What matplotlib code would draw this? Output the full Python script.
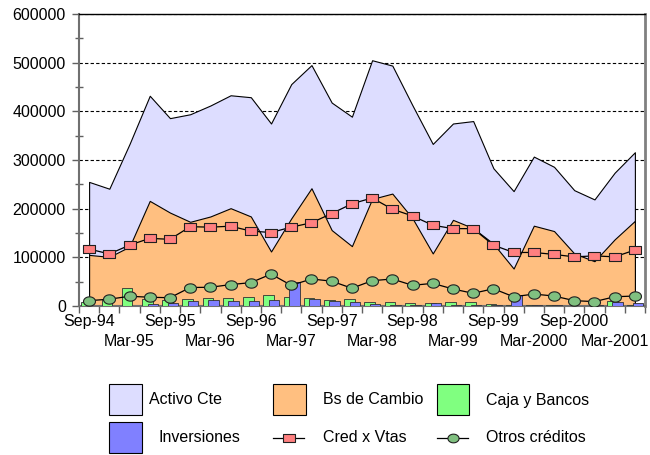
import numpy as np
import matplotlib
matplotlib.use("Agg")
import matplotlib.pyplot as plt
from matplotlib.patches import Rectangle
from matplotlib.lines import Line2D

plt.rcParams['font.family'] = ['Liberation Sans', 'DejaVu Sans']

categories = ['Sep-94', 'Dec-94', 'Mar-95', 'Jun-95', 'Sep-95', 'Dec-95', 'Mar-96', 'Jun-96',
              'Sep-96', 'Dec-96', 'Mar-97', 'Jun-97', 'Sep-97', 'Dec-97', 'Mar-98', 'Jun-98',
              'Sep-98', 'Dec-98', 'Mar-99', 'Jun-99', 'Sep-99', 'Dec-99', 'Mar-2000', 'Jun-2000',
              'Sep-2000', 'Dec-2000', 'Mar-2001', 'Jun-2001']

activo_cte = [255000, 241000, 333000, 432000, 386000, 394000, 412000, 433000, 429000, 375000,
              456000, 495000, 418000, 389000, 505000, 494000, 412000, 333000, 375000, 380000,
              283000, 236000, 307000, 286000, 238000, 219000, 274000, 316000]

bs_cambio = [105000, 101000, 122000, 216000, 192000, 173000, 184000, 201000, 184000, 112000,
             180000, 242000, 156000, 123000, 220000, 231000, 180000, 108000, 177000, 160000,
             128000, 77000, 165000, 154000, 108000, 92000, 137000, 175000]

caja_bancos = [9000, 12000, 37000, 15000, 13000, 13500, 15500, 15500, 18500, 23000,
               18500, 15500, 13000, 14000, 7500, 7500, 6000, 6000, 7500, 7500,
               4000, 2000, 3000, 1500, 1000, 1000, 11000, 3000]

inversiones = [0, 0, 0, 4000, 7000, 9500, 13000, 9500, 10000, 13000,
               50000, 13500, 9500, 7500, 4500, 2000, 3000, 6000, 2000, 2000,
               1500, 23000, 2000, 1500, 1000, 3000, 9000, 6500]

cred_vtas = [117000, 107000, 125000, 139000, 137000, 163000, 162000, 164000, 154000, 151000,
             162000, 171000, 190000, 210000, 222000, 199000, 185000, 166000, 159000, 159000,
             125000, 110000, 110000, 106000, 101000, 103000, 101000, 115000]

otros_creditos = [11000, 14000, 20000, 18000, 17000, 38000, 38500, 44000, 48000, 65500,
                  42500, 55500, 51000, 36500, 52000, 55500, 42500, 46500, 35000, 26000,
                  35500, 19000, 24500, 20500, 11000, 9000, 19000, 20500]

yticks = [0, 100000, 200000, 300000, 400000, 500000, 600000]

W, H = 650, 455
FS = 11.5
C_ACT = '#DDDDFF'
C_BS = '#FFBF80'
C_CAJA = '#80FF80'
C_INV = '#8080FF'
C_CRED = '#FF8080'
C_OTROS = '#80C080'

rect_marker = [(-1.25, -1), (1.25, -1), (1.25, 1), (-1.25, 1), (-1.25, -1)]
t = np.linspace(0, 2 * np.pi, 60)
ell_marker = list(zip(np.cos(t), 0.78 * np.sin(t)))

fig = plt.figure(figsize=(W / 100, H / 100), dpi=100)
ax = fig.add_axes([79 / W, 1 - 306 / H, (645 - 79) / W, (306 - 14) / H])

x = np.arange(len(categories))
ax.fill_between(x, 0, activo_cte, facecolor=C_ACT, edgecolor='black', lw=0.8, zorder=1)
ax.fill_between(x, 0, bs_cambio, facecolor=C_BS, edgecolor='black', lw=0.8, zorder=2)
ax.bar(x - 0.12, caja_bancos, width=0.52, color=C_CAJA, edgecolor='#303030', lw=0.6, zorder=3)
ax.bar(x + 0.15, inversiones, width=0.52, color=C_INV, edgecolor='#303030', lw=0.6, zorder=4)
ax.plot(x, cred_vtas, color='black', lw=0.9, marker=rect_marker, ms=8,
        mfc=C_CRED, mec='#202020', mew=0.8, zorder=6)
ax.plot(x, otros_creditos, color='black', lw=0.9, marker=ell_marker, ms=8.6,
        mfc=C_OTROS, mec='#202020', mew=0.8, zorder=5)

ax.set_xlim(-0.5, len(categories) - 0.5)
ax.set_ylim(0, 600000)

ax.set_axisbelow(True)
ax.yaxis.grid(True, linestyle=(0, (3, 2)), color='black', lw=0.8)

ax.set_yticks(yticks, [str(v) for v in yticks])
ax.set_yticks(np.arange(50000, 600000, 100000), minor=True)
ax.tick_params(axis='y', which='major', length=5, width=1, color='#606060',
               labelsize=FS, pad=4.5)
ax.tick_params(axis='y', which='minor', direction='inout', length=6, width=1, color='#606060')

# category boundaries as major ticks (no labels)
ax.set_xticks(np.arange(-0.5, len(categories), 1))
ax.set_xticklabels([])
ax.tick_params(axis='x', which='major', length=5, width=1, color='#606060', direction='out')

# first label row (Sep) on minor ticks
row1 = [i for i in range(len(categories)) if i % 4 == 0]
ax.set_xticks(row1, [categories[i] for i in row1], minor=True)
ax.tick_params(axis='x', which='minor', length=0, labelsize=FS, pad=5.5)

# second label row (Mar) on a secondary axis below
row2 = [i for i in range(len(categories)) if i % 4 == 2]
sec = ax.secondary_xaxis('bottom')
sec.set_xticks(row2, [categories[i] for i in row2])
sec.tick_params(axis='x', length=0, labelsize=FS, pad=20.5)
sec.spines['bottom'].set_visible(False)

for side in ['left', 'bottom']:
    ax.spines[side].set_color('#707070')
    ax.spines[side].set_linewidth(1.5)
ax.spines['top'].set_color('black')
ax.spines['top'].set_linewidth(1)
ax.spines['right'].set_color('#808080')
ax.spines['right'].set_linewidth(2)


def fx(px):
    return px / W


def fy(py):
    return 1 - py / H


def patch(x0, x1, y0, y1, color):
    fig.add_artist(Rectangle((fx(x0), fy(y1)), (x1 - x0) / W, (y1 - y0) / H,
                             transform=fig.transFigure, facecolor=color,
                             edgecolor='black', lw=0.8))


def line_handle(x0, x1, yc, marker, ms, color):
    fig.add_artist(Line2D([fx(x0), fx(x1)], [fy(yc), fy(yc)], transform=fig.transFigure,
                          color='black', lw=0.9))
    fig.add_artist(Line2D([fx((x0 + x1) / 2)], [fy(yc)], transform=fig.transFigure,
                          marker=marker, ms=ms, mfc=color, mec='#202020', mew=0.8, lw=0))


patch(109, 142, 384, 415, C_ACT)
fig.text(fx(149), fy(400), 'Activo Cte', fontsize=FS, va='center', ha='left')
patch(273, 306, 384, 415, C_BS)
fig.text(fx(323), fy(400), 'Bs de Cambio', fontsize=FS, va='center', ha='left')
patch(437, 469, 384, 415, C_CAJA)
fig.text(fx(486), fy(400), 'Caja y Bancos', fontsize=FS, va='center', ha='left')
patch(109, 142, 422, 453, C_INV)
fig.text(fx(159), fy(438), 'Inversiones', fontsize=FS, va='center', ha='left')
line_handle(273, 304, 438, rect_marker, 8, C_CRED)
fig.text(fx(323), fy(438), 'Cred x Vtas', fontsize=FS, va='center', ha='left')
line_handle(437, 468, 438, ell_marker, 8, C_OTROS)
fig.text(fx(486), fy(438), 'Otros créditos', fontsize=FS, va='center', ha='left')

fig.savefig('out.png', dpi=100)
